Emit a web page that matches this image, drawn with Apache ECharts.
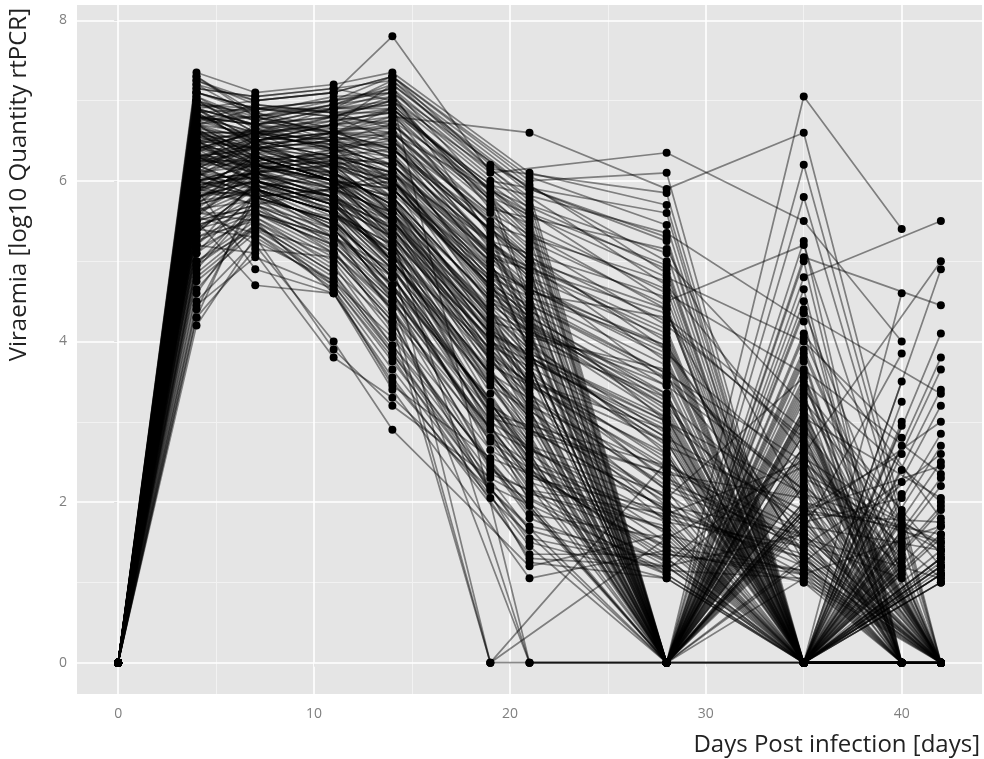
<!DOCTYPE html>
<html>
<head>
<meta charset="utf-8">
<script src="https://cdn.jsdelivr.net/npm/echarts@6/dist/echarts.min.js"></script>
<style>
html, body { margin: 0; padding: 0; background: #fff; }
#chart { width: 984px; height: 759px; }
</style>
</head>
<body>
<div id="chart"></div>
<script>
// axis ticks / grid
const xTicks = [0, 10, 20, 30, 40];
const xMinor = [5, 15, 25, 35];
const yTicks = [0, 2, 4, 6, 8];
const yMinor = [1, 3, 5, 7];

// the first 80 animals were sampled on day 19 and 40, the other 120 on day 21 and 42
const groupA = 80;
const d0 = 0;
const d4 = [
  7.3, 7.1, 6.9, 6.8, 6.7, 6.6, 6.6, 6.5, 6.4, 6.4,
  6.3, 6.3, 6.2, 6.1, 6.1, 6.0, 5.9, 5.9, 5.8, 5.7,
  5.6, 5.5, 5.4, 5.3, 5.2, 5.0, 4.8, 4.3, 6.9, 7.0,
  6.2, 5.6, 6.5, 5.9, 6.8, 5.1, 6.0, 6.7, 5.4, 6.3,
  7.25, 7.05, 6.95, 6.85, 6.75, 6.55, 6.45, 6.35, 6.25, 6.15,
  6.05, 5.95, 5.85, 5.75, 5.65, 5.45, 5.35, 5.15, 4.95, 4.65,
  6.6, 6.4, 6.2, 6.0, 5.8, 6.8, 7.15, 6.5, 6.3, 6.1,
  5.9, 5.7, 5.5, 6.7, 6.9, 6.45, 6.25, 5.55, 4.45, 6.65,
  7.35, 7.2, 7.1, 7.0, 6.9, 6.9, 6.8, 6.8, 6.7, 6.6,
  6.6, 6.5, 6.5, 6.4, 6.4, 6.3, 6.3, 6.2, 6.2, 6.1,
  6.1, 6.0, 6.0, 5.9, 5.9, 5.8, 5.7, 5.6, 5.5, 5.4,
  5.3, 5.2, 5.0, 4.9, 4.6, 4.2, 4.4, 6.7, 6.5, 6.3,
  6.9, 7.2, 6.0, 5.8, 6.6, 6.2, 5.5, 6.4, 7.0, 5.7,
  6.1, 6.8, 5.9, 6.3, 5.2, 6.6, 7.1, 6.0, 5.6, 6.4,
  7.3, 7.15, 7.05, 6.95, 6.85, 6.75, 6.65, 6.55, 6.45, 6.35,
  6.25, 6.15, 6.05, 5.95, 5.85, 5.75, 5.65, 5.55, 5.45, 5.35,
  5.25, 5.1, 4.85, 4.75, 4.5, 4.3, 6.95, 6.7, 6.5, 6.3,
  6.9, 6.6, 6.4, 6.2, 6.0, 5.8, 7.25, 6.8, 6.1, 5.9,
  6.45, 6.75, 6.55, 6.35, 6.15, 5.95, 6.85, 7.0, 5.6, 5.4,
  6.65, 6.25, 5.7, 6.05, 7.1, 6.5, 5.85, 6.3, 4.95, 6.7
];
const d7 = [
  6.8, 6.9, 6.5, 6.7, 6.3, 6.6, 6.2, 6.4, 6.6, 6.0,
  6.4, 6.1, 6.5, 5.9, 6.3, 6.2, 5.8, 6.3, 6.0, 5.9,
  6.1, 5.7, 5.9, 5.6, 5.8, 5.5, 5.4, 5.9, 7.0, 6.6,
  6.2, 6.0, 6.4, 4.9, 6.7, 5.6, 6.1, 6.5, 5.3, 6.2,
  6.95, 6.75, 6.85, 6.45, 6.55, 6.35, 6.65, 6.15, 6.25, 6.45,
  5.95, 6.05, 6.35, 5.85, 6.15, 5.65, 5.95, 5.55, 5.75, 5.45,
  6.5, 6.3, 6.7, 6.1, 5.9, 6.6, 7.05, 6.2, 6.4, 5.8,
  6.0, 6.3, 5.7, 6.8, 6.5, 6.1, 6.55, 5.35, 5.05, 6.25,
  7.1, 6.8, 6.9, 6.6, 6.7, 6.4, 6.8, 6.5, 6.3, 6.6,
  6.2, 6.5, 6.1, 6.4, 6.6, 6.0, 6.3, 6.4, 5.9, 6.2,
  6.5, 5.8, 6.1, 6.3, 5.7, 6.0, 6.2, 5.6, 5.9, 5.8,
  5.5, 6.0, 5.4, 5.7, 5.6, 5.3, 5.8, 6.9, 6.2, 6.1,
  6.7, 7.0, 5.9, 6.0, 6.4, 6.3, 4.7, 6.6, 6.8, 5.2,
  6.0, 6.7, 6.1, 6.5, 5.1, 6.4, 6.9, 5.8, 5.9, 6.2,
  6.85, 7.05, 6.65, 6.75, 6.45, 6.95, 6.25, 6.55, 6.15, 6.65,
  6.35, 5.95, 6.45, 6.05, 5.85, 6.25, 5.75, 6.15, 5.65, 5.95,
  5.55, 5.85, 5.45, 5.35, 5.25, 5.15, 6.9, 6.4, 6.6, 6.0,
  6.7, 6.3, 6.5, 5.9, 6.2, 6.1, 7.0, 6.6, 5.8, 6.1,
  6.3, 6.8, 6.4, 6.0, 6.5, 5.7, 6.9, 6.75, 5.5, 5.6,
  6.55, 6.2, 5.9, 6.35, 6.85, 6.05, 6.15, 6.45, 5.45, 6.6
];
const d11 = [
  7.0, 6.8, 6.3, 6.8, 6.0, 6.5, 6.1, 6.6, 6.4, 5.7,
  6.2, 6.3, 6.6, 5.6, 6.1, 6.4, 5.5, 6.0, 6.2, 5.6,
  5.8, 5.9, 5.4, 5.2, 5.9, 4.9, 5.1, 5.6, 7.1, 6.2,
  6.0, 5.7, 6.6, 4.6, 6.9, 5.3, 5.8, 6.3, 3.9, 6.0,
  6.85, 6.95, 6.55, 6.25, 6.75, 6.05, 6.45, 5.85, 6.35, 6.15,
  5.65, 5.95, 6.45, 5.45, 6.25, 5.25, 5.75, 5.05, 5.55, 4.85,
  6.7, 6.0, 6.5, 5.8, 6.1, 6.9, 7.15, 5.9, 6.3, 5.4,
  5.7, 6.2, 5.3, 6.6, 6.4, 5.6, 6.8, 4.75, 4.65, 6.05,
  7.2, 6.5, 6.9, 6.4, 6.8, 6.2, 6.6, 6.7, 6.0, 6.5,
  6.3, 6.1, 6.2, 6.4, 6.7, 5.8, 6.0, 6.5, 5.6, 6.1,
  6.6, 5.5, 5.9, 6.3, 5.4, 5.7, 6.0, 5.2, 5.6, 5.9,
  5.0, 5.8, 4.8, 5.3, 5.1, 4.7, 5.5, 7.0, 5.9, 6.2,
  6.4, 7.1, 5.6, 5.7, 6.5, 6.0, 4.6, 6.4, 6.9, 4.0,
  5.8, 6.6, 5.7, 6.3, 3.8, 6.1, 6.8, 5.5, 5.3, 6.0,
  6.65, 7.15, 6.35, 6.95, 6.15, 6.85, 5.95, 6.45, 5.75, 6.75,
  6.05, 5.55, 6.55, 5.85, 5.45, 6.35, 5.35, 6.25, 5.15, 5.65,
  4.95, 5.75, 4.85, 4.65, 4.75, 5.05, 7.0, 6.1, 6.7, 5.8,
  6.9, 6.0, 6.6, 5.5, 6.3, 5.9, 7.1, 6.8, 5.2, 6.4,
  6.2, 6.95, 6.5, 5.6, 6.7, 5.1, 6.85, 6.6, 4.6, 5.3,
  6.45, 5.95, 5.4, 6.25, 7.05, 5.75, 6.0, 6.55, 4.7, 6.65
];
const d14 = [
  7.3, 6.5, 5.8, 7.0, 5.5, 6.2, 5.6, 6.8, 6.0, 5.0,
  5.9, 6.4, 6.9, 4.9, 5.7, 6.6, 4.8, 5.5, 6.3, 5.1,
  5.3, 6.0, 4.7, 4.5, 6.1, 4.2, 4.4, 5.2, 7.8, 5.6,
  5.8, 5.0, 6.7, 3.5, 7.1, 4.6, 5.4, 6.1, 3.2, 5.9,
  6.65, 7.15, 6.35, 5.75, 6.85, 5.45, 6.15, 5.25, 6.55, 5.95,
  4.95, 5.55, 6.45, 4.85, 6.05, 4.55, 5.35, 4.25, 5.15, 3.95,
  6.9, 5.5, 6.4, 5.2, 5.8, 7.25, 7.0, 5.6, 6.2, 4.7,
  5.3, 6.0, 4.4, 6.75, 6.3, 5.1, 7.05, 3.85, 3.45, 5.65,
  7.35, 6.0, 7.0, 5.9, 6.9, 5.6, 6.4, 6.8, 5.4, 6.3,
  6.1, 5.5, 5.8, 6.5, 7.2, 5.0, 5.3, 6.7, 4.9, 5.7,
  6.6, 4.8, 5.2, 6.2, 4.6, 5.1, 5.9, 4.4, 5.0, 5.6,
  4.1, 5.4, 3.9, 4.7, 4.3, 3.8, 4.9, 7.1, 5.5, 6.0,
  6.1, 7.3, 5.2, 5.3, 6.6, 5.8, 3.4, 6.2, 6.9, 2.9,
  5.5, 6.4, 5.1, 6.0, 3.3, 5.7, 7.0, 4.5, 4.8, 5.6,
  6.25, 7.25, 5.85, 7.05, 5.65, 6.95, 5.25, 6.15, 4.95, 6.85,
  5.55, 4.65, 6.45, 5.15, 4.55, 6.05, 4.35, 5.95, 4.15, 5.05,
  3.95, 5.45, 3.85, 3.65, 4.05, 4.25, 7.15, 5.7, 6.6, 5.0,
  6.95, 5.3, 6.5, 4.8, 6.1, 5.4, 7.3, 6.7, 4.5, 6.2,
  5.9, 7.2, 6.3, 4.7, 6.75, 4.45, 6.85, 6.55, 3.55, 4.9,
  6.35, 5.35, 4.6, 6.0, 7.1, 5.0, 5.75, 6.4, 3.75, 6.65
];
// day 19: group A only (80 values)
const d19 = [
  6.2, 5.4, 4.3, 6.0, 4.1, 5.0, 3.8, 5.8, 4.6, 3.5,
  4.7, 5.5, 5.9, 3.2, 4.4, 5.6, 3.0, 4.0, 5.2, 3.6,
  3.9, 4.8, 2.8, 2.5, 5.1, 0, 2.4, 3.7, 6.1, 4.2,
  4.5, 0, 5.7, 2.05, 5.3, 2.9, 4.1, 5.0, 2.3, 4.9,
  5.15, 5.85, 4.65, 3.85, 5.35, 3.55, 4.45, 3.25, 5.05, 4.15,
  2.95, 3.75, 4.95, 2.65, 4.35, 2.45, 3.45, 2.2, 3.15, 2.35,
  5.95, 3.65, 5.25, 3.05, 4.05, 6.15, 5.75, 3.95, 4.85, 2.75,
  3.35, 4.55, 0, 5.45, 4.75, 3.1, 5.65, 2.15, 2.55, 4.25
];
// day 21: group B only (120 values)
const d21 = [
  6.1, 4.6, 5.8, 4.2, 5.5, 3.9, 5.0, 6.6, 3.6, 4.8,
  4.4, 3.7, 4.0, 5.2, 5.9, 3.1, 3.5, 5.4, 2.9, 4.1,
  5.6, 2.6, 3.3, 4.7, 2.4, 3.0, 4.3, 2.1, 2.8, 3.8,
  1.8, 3.4, 1.5, 2.7, 2.2, 1.3, 2.5, 5.7, 3.9, 4.5,
  4.9, 6.0, 3.2, 0, 5.1, 4.0, 1.05, 4.6, 5.3, 1.2,
  3.6, 5.0, 2.0, 4.4, 1.7, 3.8, 0, 2.3, 2.6, 3.5,
  4.85, 5.95, 4.25, 5.65, 3.95, 5.45, 3.55, 4.45, 3.05, 5.25,
  3.65, 2.75, 4.95, 3.25, 2.55, 4.15, 2.35, 4.35, 2.05, 3.45,
  1.95, 3.75, 1.65, 1.45, 1.85, 1.25, 5.75, 3.85, 5.05, 2.95,
  5.35, 3.35, 4.75, 2.45, 4.05, 3.15, 6.05, 5.15, 2.25, 4.65,
  4.3, 5.85, 4.55, 2.65, 5.55, 0, 5.6, 4.9, 1.35, 2.85,
  4.6, 3.5, 2.15, 4.1, 5.9, 3.05, 3.7, 4.8, 1.55, 5.0
];
const d28 = [
  5.0, 3.9, 0, 5.6, 2.8, 0, 2.4, 4.8, 3.3, 0,
  3.6, 0, 4.9, 1.9, 0, 4.4, 1.6, 2.9, 0, 2.2,
  0, 3.7, 1.4, 0, 4.1, 0, 1.2, 2.6, 6.35, 0,
  3.2, 2.5, 4.6, 0, 0, 1.8, 3.0, 0, 1.1, 3.8,
  4.15, 0, 3.45, 2.15, 0, 1.75, 3.05, 0, 4.35, 2.65,
  0, 1.95, 0, 1.35, 3.35, 0, 2.05, 1.15, 0, 1.45,
  5.35, 0, 4.55, 2.35, 0, 5.85, 0, 2.75, 3.95, 1.25,
  0, 3.15, 1.55, 4.75, 0, 2.45, 5.15, 0, 1.65, 3.55,
  5.7, 0, 4.7, 3.1, 0, 2.7, 4.0, 5.9, 0, 3.5,
  3.0, 0, 2.6, 4.2, 5.3, 0, 2.3, 0, 1.9, 3.2,
  4.5, 1.5, 0, 3.9, 1.3, 2.0, 0, 1.7, 0, 2.8,
  1.1, 0, 1.05, 2.1, 0, 1.2, 1.8, 5.1, 0, 3.6,
  0, 6.1, 2.4, 0, 0, 3.3, 1.4, 4.3, 0, 1.6,
  2.5, 4.4, 0, 0, 1.3, 3.0, 0, 1.9, 0, 2.9,
  0, 4.85, 3.25, 0, 2.85, 0, 2.55, 3.55, 0, 4.45,
  2.25, 0, 3.75, 1.85, 0, 3.45, 1.45, 0, 1.25, 2.45,
  0, 2.95, 1.15, 0, 1.55, 1.05, 0, 3.05, 4.25, 0,
  4.65, 2.15, 0, 1.75, 3.65, 0, 5.45, 0, 1.65, 3.85,
  3.35, 0, 3.95, 1.95, 0, 0, 4.95, 0, 1.35, 2.35,
  0, 2.75, 1.85, 0, 5.25, 2.05, 0, 4.05, 1.2, 0
];
const d35 = [
  3.2, 0, 2.5, 0, 1.8, 3.4, 0, 4.0, 0, 2.2,
  0, 3.1, 0, 1.3, 2.7, 0, 1.1, 0, 4.5, 1.5,
  2.0, 0, 1.0, 2.9, 0, 0, 1.6, 0, 5.5, 3.8,
  0, 1.2, 3.6, 1.9, 7.05, 0, 2.1, 5.0, 0, 0,
  0, 3.35, 2.15, 0, 2.85, 1.45, 0, 3.75, 1.25, 0,
  2.35, 0, 3.05, 1.15, 0, 1.85, 0, 2.55, 1.05, 0,
  4.25, 1.65, 0, 2.05, 3.55, 0, 5.25, 0, 1.35, 2.65,
  1.75, 0, 2.45, 0, 4.65, 0, 1.95, 3.15, 0, 1.55,
  0, 3.0, 2.6, 0, 4.4, 1.9, 0, 6.6, 2.3, 0,
  1.7, 3.5, 0, 2.8, 0, 2.4, 1.4, 4.1, 0, 1.2,
  5.2, 0, 2.0, 1.5, 0, 1.1, 3.3, 0, 1.8, 0,
  0, 2.2, 0, 1.0, 2.7, 0, 1.3, 0, 3.9, 2.5,
  4.8, 0, 1.6, 0, 6.2, 0, 0, 2.9, 5.8, 0,
  1.4, 0, 3.1, 1.9, 0, 0, 0, 1.2, 2.6, 0,
  2.85, 0, 1.75, 3.25, 0, 2.45, 0, 2.15, 3.65, 0,
  1.55, 2.95, 0, 1.35, 2.25, 0, 1.15, 3.05, 0, 1.65,
  2.55, 0, 1.05, 1.85, 0, 0, 3.45, 0, 2.75, 1.95,
  0, 1.45, 3.85, 0, 2.05, 1.25, 0, 5.05, 0, 2.35,
  0, 4.05, 0, 1.6, 3.15, 0, 0, 2.65, 1.1, 0,
  1.9, 0, 2.5, 1.3, 0, 3.55, 1.7, 0, 0, 4.35
];
// day 40: group A only (80 values)
const d40 = [
  0, 2.4, 1.3, 0, 0, 1.9, 0, 2.8, 0, 1.2,
  1.6, 0, 3.5, 0, 1.1, 0, 0, 1.5, 0, 1.05,
  0, 2.1, 0, 1.4, 0, 0, 0, 1.8, 4.0, 0,
  1.3, 0, 0, 2.6, 5.4, 0, 1.7, 0, 0, 3.0,
  1.85, 0, 0, 1.25, 0, 2.25, 1.15, 0, 0, 1.45,
  0, 3.25, 0, 0, 1.75, 0, 2.95, 0, 0, 1.35,
  0, 3.85, 1.1, 0, 0, 4.6, 0, 1.65, 0, 0,
  2.05, 0, 0, 1.55, 0, 2.7, 0, 0, 1.2, 0
];
// day 42: group B only (120 values)
const d42 = [
  2.3, 0, 0, 1.6, 0, 0, 3.2, 0, 1.4, 1.1,
  0, 2.0, 1.2, 0, 4.1, 0, 0, 1.8, 1.0, 0,
  0, 1.3, 1.5, 0, 2.7, 0, 0, 1.2, 3.0, 1.1,
  1.0, 0, 1.7, 0, 0, 1.4, 0, 2.2, 0, 0,
  5.5, 1.9, 0, 0, 0, 3.4, 1.0, 0, 0, 1.3,
  0, 2.5, 0, 1.6, 1.1, 0, 0, 0, 5.0, 1.2,
  0, 1.95, 0, 1.35, 0, 0, 1.15, 0, 2.35, 0,
  1.05, 0, 1.55, 0, 0, 1.25, 0, 2.05, 0, 0,
  1.45, 0, 0, 1.75, 0, 1.1, 0, 2.85, 0, 0,
  3.65, 0, 0, 1.3, 0, 2.6, 0, 4.45, 0, 1.5,
  0, 0, 3.8, 0, 1.2, 0, 0, 0, 1.7, 0,
  2.45, 0, 1.05, 0, 4.9, 0, 1.4, 0, 0, 3.35
];

// one trajectory per animal
const animals = [];
for (let i = 0; i < d4.length; i++) {
  const a = i < groupA;
  const j = a ? i : i - groupA;
  animals.push([
    [0, d0], [4, d4[i]], [7, d7[i]], [11, d11[i]], [14, d14[i]],
    a ? [19, d19[j]] : [21, d21[j]],
    [28, d28[i]], [35, d35[i]],
    a ? [40, d40[j]] : [42, d42[j]]
  ]);
}
const allPoints = [].concat(...animals);

const gridLines = []
  .concat(xMinor.map(v => ({ xAxis: v, lineStyle: { color: '#F2F2F2', width: 1 } })))
  .concat(yMinor.map(v => ({ yAxis: v, lineStyle: { color: '#F2F2F2', width: 1 } })))
  .concat(xTicks.map(v => ({ xAxis: v, lineStyle: { color: '#FFFFFF', width: 1.6 } })))
  .concat(yTicks.map(v => ({ yAxis: v, lineStyle: { color: '#FFFFFF', width: 1.6 } })));

const series = [{
  type: 'line',
  data: [],
  z: 1,
  silent: true,
  markLine: {
    silent: true,
    symbol: ['none', 'none'],
    label: { show: false },
    lineStyle: { type: 'solid' },
    data: gridLines
  }
}];
animals.forEach(pts => {
  series.push({
    type: 'line',
    data: pts,
    showSymbol: false,
    z: 10,
    silent: true,
    lineStyle: { color: 'rgba(0,0,0,0.45)', width: 1.7 }
  });
});
series.push({
  type: 'scatter',
  data: allPoints,
  z: 20,
  silent: true,
  symbol: 'circle',
  symbolSize: 8,
  itemStyle: { color: '#000', opacity: 1 }
});

const chart = echarts.init(document.getElementById('chart'));
chart.setOption({
  animation: false,
  backgroundColor: '#fff',
  grid: {
    left: 77, top: 5, width: 905, height: 689,
    show: true, backgroundColor: '#E5E5E5', borderWidth: 0
  },
  xAxis: {
    type: 'value', min: -2.1, max: 44.1,
    axisLine: { show: false },
    splitLine: { show: false },
    axisTick: { show: true, customValues: xTicks, length: 4, lineStyle: { color: '#7F7F7F' } },
    axisLabel: { customValues: xTicks, color: '#7F7F7F', fontSize: 14, margin: 13, fontFamily: 'Open Sans' }
  },
  yAxis: {
    type: 'value', min: -0.39, max: 8.19,
    axisLine: { show: false },
    splitLine: { show: false },
    axisTick: { show: true, customValues: yTicks, length: 4, lineStyle: { color: '#7F7F7F' } },
    axisLabel: { customValues: yTicks, color: '#7F7F7F', fontSize: 14, margin: 10, fontFamily: 'Open Sans' }
  },
  graphic: [
    {
      type: 'text', x: 980, y: 745,
      style: { text: 'Days Post infection [days]', fill: '#222', font: '24px "Open Sans"', textAlign: 'right', textVerticalAlign: 'middle' }
    },
    {
      type: 'text', x: 19, y: 8, rotation: Math.PI / 2,
      style: { text: 'Viraemia [log10 Quantity rtPCR]', fill: '#222', font: '24px "Open Sans"', textAlign: 'right', textVerticalAlign: 'middle' }
    }
  ],
  series: series
});
</script>
</body>
</html>
